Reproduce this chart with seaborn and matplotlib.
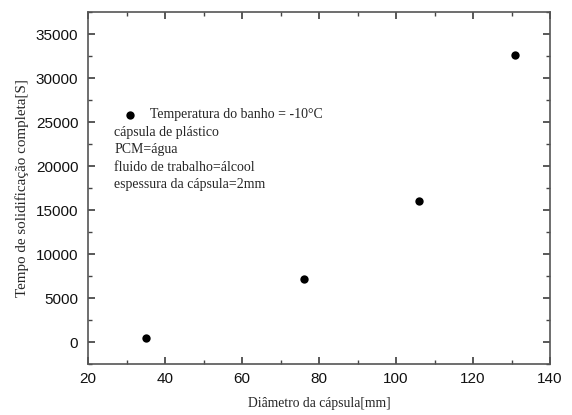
import matplotlib
matplotlib.use("Agg")
import matplotlib.pyplot as plt
import seaborn as sns
import pandas as pd
from matplotlib.ticker import MultipleLocator

# data
diametro = [35, 76, 106, 131]
tempo = [500, 7200, 16000, 32600]

legend_label = "Temperatura do banho = -10°C"
notes = ["cápsula de plástico", "PCM=água", "fluido de trabalho=álcool",
         "espessura da cápsula=2mm"]

sns.set_theme(style="ticks")
plt.rcParams['font.family'] = ['Liberation Sans', 'DejaVu Sans']
serif = ['Liberation Serif', 'DejaVu Serif']

df = pd.DataFrame({'d': diametro, 't': tempo})

fig = plt.figure(figsize=(5.72, 4.15), dpi=100)
ax = fig.add_axes([88 / 572, 1 - 364 / 415, (550 - 88) / 572, (364 - 12) / 415])

sns.scatterplot(data=df, x='d', y='t', ax=ax, color='black', s=36,
                edgecolor='black', linewidth=0, legend=False)

ax.set_xlim(20, 140)
ax.set_ylim(-2500, 37500)
ax.xaxis.set_major_locator(MultipleLocator(20))
ax.xaxis.set_minor_locator(MultipleLocator(10))
ax.yaxis.set_major_locator(MultipleLocator(5000))
ax.yaxis.set_minor_locator(MultipleLocator(2500))
ax.tick_params(which='both', direction='in', top=True, right=True,
               labelsize=11, colors='#444444', labelcolor='#111111')
ax.tick_params(axis='y', which='major', pad=7)
ax.tick_params(axis='x', which='major', pad=6)
ax.tick_params(which='major', length=5)
ax.tick_params(which='minor', length=3)
for s in ax.spines.values():
    s.set_color('#555555')
    s.set_linewidth(1.2)

ax.set_xlabel("Diâmetro da cápsula[mm]", family=serif, fontsize=9.8, labelpad=8)
ax.set_ylabel("Tempo de solidificação completa[S]", family=serif, fontsize=10.8, labelpad=5)

# legend-like annotation block
ax.scatter([31], [25800], color='black', s=36, linewidth=0)
ax.text(36, 25800, legend_label, family=serif, fontsize=10, va='center')
for i, line in enumerate(notes):
    ax.text(26.8, 23800 - i * 1970, line, family=serif, fontsize=10, va='center')

fig.savefig("out.png", dpi=100)
